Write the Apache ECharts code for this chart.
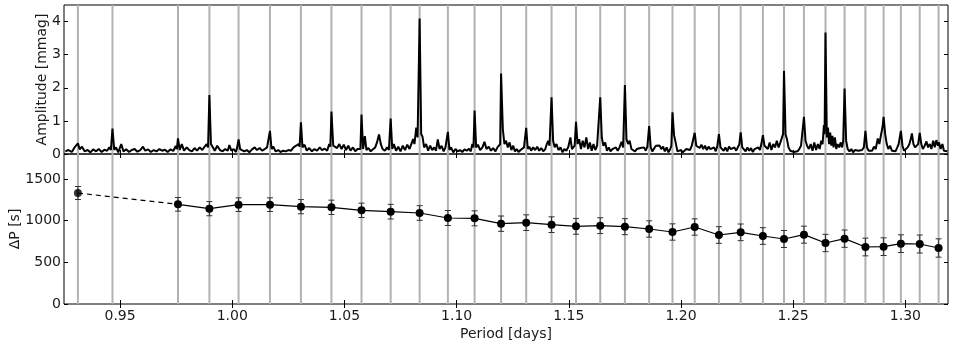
<!DOCTYPE html>
<html>
<head>
<meta charset="utf-8">
<script src="https://cdn.jsdelivr.net/npm/echarts@6/dist/echarts.min.js"></script>
<style>
  html, body { margin: 0; padding: 0; background: #fff; }
  #chart { width: 957px; height: 348px; }
</style>
</head>
<body>
<div id="chart"></div>
<script>
// periods of the identified peaks (grey vertical lines)
const peakPeriods = [0.9312, 0.9466, 0.9758, 0.9898, 1.0028, 1.0168, 1.0306, 1.0442, 1.0576, 1.0706,
  1.0835, 1.0961, 1.1080, 1.1198, 1.1310, 1.1423, 1.1532, 1.1640, 1.1750, 1.1858, 1.1962, 1.2061,
  1.2169, 1.2266, 1.2365, 1.2459, 1.2548, 1.2644, 1.2729, 1.2822, 1.2903, 1.2980, 1.3064, 1.3148]

// period spacing dP [s] per mode
const spacingPeriods = [0.9312, 0.9758, 0.9898, 1.0028, 1.0168, 1.0306, 1.0442, 1.0576, 1.0706,
  1.0835, 1.0961, 1.1080, 1.1198, 1.1310, 1.1423, 1.1532, 1.1640, 1.1750, 1.1858, 1.1962, 1.2061,
  1.2169, 1.2266, 1.2365, 1.2459, 1.2548, 1.2644, 1.2729, 1.2822, 1.2903, 1.2980, 1.3064, 1.3148]
const spacingValues = [1332, 1196, 1144, 1192, 1192, 1168, 1160, 1124, 1108, 1092, 1032, 1028, 964,
  976, 952, 932, 940, 928, 900, 864, 924, 828, 860, 816, 780, 832, 732, 784, 684, 688, 724, 720, 672]
const spacingErrors = [78, 82, 85, 82, 82, 85, 86, 86, 88, 88, 90, 90, 92, 94, 94, 95, 95, 96, 98, 98,
  98, 100, 100, 100, 102, 102, 104, 104, 106, 106, 106, 108, 110]

// amplitude spectrum [period, mmag]
const amplitude = [
  [0.9256,0.08],[0.9270,0.12],[0.9285,0.06],[0.9297,0.2],[0.9305,0.15],[0.9312,0.32],[0.9320,0.14],[0.9330,0.22],[0.9342,0.08],
  [0.9355,0.12],[0.9368,0.05],[0.9380,0.14],[0.9393,0.08],[0.9405,0.15],[0.9418,0.06],[0.9430,0.13],[0.9442,0.1],[0.9452,0.2],[0.9459,0.12],[0.9466,0.77],[0.9474,0.12],[0.9482,0.2],
  [0.9492,0.05],[0.9505,0.3],[0.9515,0.08],[0.9527,0.14],[0.9540,0.06],[0.9552,0.12],[0.9565,0.15],[0.9577,0.07],[0.9590,0.12],[0.9602,0.22],[0.9612,0.1],[0.9625,0.14],[0.9637,0.06],[0.9650,0.12],[0.9662,0.08],[0.9675,0.15],[0.9687,0.1],[0.9700,0.13],[0.9712,0.06],[0.9725,0.14],[0.9737,0.09],[0.9748,0.24],[0.9753,0.15],[0.9758,0.47],[0.9766,0.12],[0.9775,0.3],
  [0.9785,0.1],[0.9797,0.2],[0.9808,0.12],[0.9820,0.08],[0.9832,0.18],[0.9843,0.1],[0.9855,0.2],[0.9866,0.12],[0.9877,0.22],[0.9886,0.3],[0.9892,0.2],[0.9898,1.78],[0.9905,0.3],[0.9912,0.22],
  [0.9922,0.1],[0.9933,0.25],[0.9945,0.12],[0.9957,0.08],[0.9968,0.15],[0.9980,0.1],[0.9987,0.27],[0.9996,0.1],[1.0006,0.15],[1.0016,0.06],[1.0022,0.2],[1.0028,0.44],[1.0035,0.15],[1.0043,0.2],
  [1.0053,0.08],[1.0065,0.12],[1.0076,0.05],[1.0088,0.14],[1.0100,0.2],[1.0110,0.12],[1.0122,0.18],[1.0133,0.1],[1.0145,0.15],[1.0155,0.2],[1.0162,0.14],[1.0168,0.70],[1.0175,0.15],[1.0183,0.22],
  [1.0193,0.08],[1.0205,0.12],[1.0215,0.06],[1.0227,0.1],[1.0238,0.08],[1.0250,0.12],[1.0262,0.1],[1.0273,0.2],[1.0285,0.25],[1.0295,0.3],[1.0300,0.22],[1.0306,0.96],[1.0313,0.2],[1.0322,0.28],
  [1.0332,0.1],[1.0343,0.18],[1.0355,0.08],[1.0366,0.15],[1.0378,0.1],[1.0390,0.2],[1.0400,0.12],[1.0412,0.16],[1.0423,0.1],[1.0432,0.3],[1.0437,0.22],[1.0442,1.28],[1.0450,0.25],[1.0458,0.3],
  [1.0467,0.18],[1.0477,0.3],[1.0487,0.15],[1.0497,0.28],[1.0507,0.12],[1.0517,0.25],[1.0527,0.1],[1.0538,0.2],[1.0548,0.08],[1.0558,0.15],[1.0566,0.2],[1.0571,0.15],[1.0576,1.19],[1.0583,0.15],[1.0591,0.54],[1.0598,0.12],
  [1.0607,0.18],[1.0617,0.08],[1.0627,0.14],[1.0637,0.2],[1.0645,0.35],[1.0654,0.59],[1.0662,0.3],[1.0670,0.15],[1.0680,0.1],[1.0690,0.2],[1.0698,0.12],[1.0706,1.07],[1.0713,0.15],[1.0720,0.3],
  [1.0730,0.1],[1.0740,0.22],[1.0750,0.08],[1.0760,0.25],[1.0770,0.12],[1.0780,0.28],[1.0790,0.15],[1.0798,0.3],[1.0806,0.45],[1.0812,0.3],[1.0820,0.8],[1.0826,0.5],[1.0835,4.09],[1.0842,0.6],[1.0848,0.52],[1.0855,0.2],
  [1.0864,0.3],[1.0873,0.1],[1.0882,0.25],[1.0891,0.12],[1.0900,0.2],[1.0908,0.1],[1.0916,0.44],[1.0924,0.15],[1.0933,0.25],[1.0942,0.08],[1.0950,0.2],[1.0956,0.15],[1.0961,0.67],[1.0968,0.12],[1.0975,0.2],
  [1.0985,0.05],[1.0995,0.15],[1.1005,0.08],[1.1015,0.12],[1.1025,0.06],[1.1035,0.14],[1.1045,0.1],[1.1055,0.16],[1.1063,0.08],[1.1070,0.3],[1.1075,0.2],[1.1080,1.31],[1.1087,0.2],[1.1095,0.28],
  [1.1105,0.12],[1.1115,0.2],[1.1124,0.37],[1.1133,0.15],[1.1143,0.22],[1.1153,0.1],[1.1163,0.18],[1.1173,0.08],[1.1182,0.2],[1.1190,0.15],[1.1194,0.3],[1.1198,2.43],[1.1206,0.74],[1.1213,0.3],[1.1220,0.4],
  [1.1228,0.2],[1.1236,0.35],[1.1244,0.12],[1.1252,0.25],[1.1260,0.08],[1.1268,0.15],[1.1276,0.06],[1.1285,0.12],[1.1293,0.1],[1.1300,0.2],[1.1305,0.15],[1.1310,0.79],[1.1317,0.15],[1.1324,0.22],
  [1.1332,0.1],[1.1341,0.2],[1.1350,0.12],[1.1359,0.22],[1.1368,0.1],[1.1377,0.18],[1.1386,0.08],[1.1395,0.15],[1.1402,0.3],[1.1408,0.4],[1.1414,0.25],[1.1423,1.71],[1.1430,0.4],[1.1437,0.2],
  [1.1445,0.3],[1.1454,0.12],[1.1463,0.2],[1.1472,0.05],[1.1480,0.15],[1.1489,0.1],[1.1498,0.22],[1.1507,0.5],[1.1514,0.15],[1.1520,0.1],[1.1526,0.25],[1.1532,0.97],[1.1539,0.3],[1.1546,0.45],
  [1.1554,0.15],[1.1562,0.4],[1.1570,0.2],[1.1578,0.5],[1.1586,0.15],[1.1594,0.35],[1.1602,0.1],[1.1610,0.3],[1.1618,0.12],[1.1626,0.25],[1.1632,0.2],[1.1640,1.71],[1.1647,0.5],[1.1654,0.25],
  [1.1662,0.35],[1.1670,0.1],[1.1678,0.2],[1.1686,0.08],[1.1694,0.15],[1.1702,0.12],[1.1710,0.2],[1.1718,0.1],[1.1726,0.2],[1.1735,0.37],[1.1742,0.2],[1.1750,2.08],[1.1757,0.45],[1.1764,0.3],[1.1771,0.4],
  [1.1779,0.15],[1.1787,0.2],[1.1795,0.08],[1.1803,0.15],[1.1811,0.1],[1.1819,0.18],[1.1827,0.12],[1.1835,0.2],[1.1843,0.1],[1.1850,0.22],[1.1858,0.84],[1.1865,0.2],[1.1872,0.08],
  [1.1880,0.1],[1.1888,0.25],[1.1896,0.2],[1.1904,0.26],[1.1912,0.15],[1.1920,0.22],[1.1928,0.08],[1.1936,0.2],[1.1944,0.05],[1.1952,0.15],[1.1957,0.25],[1.1962,1.26],[1.1969,0.57],[1.1976,0.35],
  [1.1984,0.08],[1.1992,0.03],[1.2000,0.12],[1.2008,0.05],[1.2016,0.1],[1.2024,0.15],[1.2032,0.2],[1.2040,0.12],[1.2048,0.25],[1.2055,0.2],[1.2061,0.64],[1.2068,0.25],[1.2075,0.3],
  [1.2083,0.18],[1.2091,0.28],[1.2099,0.15],[1.2107,0.25],[1.2115,0.12],[1.2123,0.22],[1.2131,0.15],[1.2139,0.1],[1.2147,0.2],[1.2155,0.08],[1.2162,0.25],[1.2169,0.6],[1.2176,0.2],[1.2183,0.25],
  [1.2190,0.1],[1.2198,0.2],[1.2206,0.08],[1.2214,0.22],[1.2222,0.15],[1.2230,0.1],[1.2238,0.2],[1.2246,0.1],[1.2254,0.15],[1.2260,0.3],[1.2266,0.65],[1.2273,0.2],[1.2280,0.25],
  [1.2288,0.08],[1.2296,0.2],[1.2304,0.1],[1.2312,0.18],[1.2320,0.06],[1.2328,0.15],[1.2336,0.1],[1.2344,0.2],[1.2352,0.12],[1.2358,0.3],[1.2365,0.57],[1.2372,0.25],[1.2379,0.3],
  [1.2387,0.15],[1.2395,0.35],[1.2403,0.12],[1.2411,0.3],[1.2419,0.2],[1.2427,0.4],[1.2435,0.2],[1.2443,0.35],[1.2450,0.5],[1.2455,0.6],[1.2459,2.51],[1.2466,0.6],[1.2473,0.42],[1.2479,0.2],
  [1.2487,0.1],[1.2495,0.15],[1.2503,0.06],[1.2511,0.12],[1.2519,0.08],[1.2527,0.15],[1.2535,0.25],[1.2542,0.3],[1.2548,1.12],[1.2555,0.4],[1.2562,0.25],
  [1.2570,0.15],[1.2578,0.3],[1.2586,0.1],[1.2594,0.35],[1.2602,0.12],[1.2610,0.3],[1.2618,0.15],[1.2625,0.4],[1.2631,0.3],[1.2637,0.87],[1.2640,0.6],[1.2644,3.67],[1.2650,0.5],[1.2655,0.8],[1.2660,0.3],[1.2665,0.65],[1.2670,0.25],[1.2675,0.55],[1.2680,0.2],[1.2686,0.5],[1.2692,0.15],[1.2698,0.3],
  [1.2705,0.2],[1.2712,0.35],[1.2718,0.2],[1.2723,0.4],[1.2729,1.98],[1.2736,0.4],[1.2743,0.15],
  [1.2751,0.08],[1.2759,0.15],[1.2767,0.05],[1.2775,0.12],[1.2783,0.08],[1.2791,0.1],[1.2799,0.06],[1.2807,0.12],[1.2815,0.2],[1.2822,0.70],[1.2829,0.2],[1.2836,0.1],
  [1.2844,0.15],[1.2852,0.1],[1.2860,0.22],[1.2868,0.15],[1.2877,0.47],[1.2884,0.3],[1.2892,0.6],[1.2898,0.8],[1.2903,1.12],[1.2910,0.6],[1.2917,0.3],[1.2924,0.15],
  [1.2932,0.25],[1.2940,0.1],[1.2948,0.15],[1.2956,0.08],[1.2964,0.2],[1.2970,0.3],[1.2980,0.70],[1.2987,0.25],[1.2994,0.1],
  [1.3002,0.15],[1.3010,0.2],[1.3018,0.3],[1.3024,0.45],[1.3029,0.62],[1.3036,0.3],[1.3043,0.2],[1.3050,0.15],[1.3057,0.3],[1.3064,0.64],[1.3071,0.3],[1.3078,0.15],
  [1.3086,0.25],[1.3094,0.38],[1.3101,0.2],[1.3109,0.3],[1.3116,0.15],[1.3124,0.4],[1.3131,0.2],[1.3138,0.42],[1.3145,0.25],[1.3150,0.35],[1.3157,0.15],[1.3165,0.3],[1.3172,0.1],[1.3180,0.15],[1.3187,0.08]
]

const periodTicks = [0.95, 1.00, 1.05, 1.10, 1.15, 1.20, 1.25, 1.30]
const ampTicks = [0, 1, 2, 3, 4]
const spacingTicks = [0, 500, 1000, 1500]

const FONT = 'DejaVu Sans'
const INK = '#1a1a1a'
const xMin = 0.925, xMax = 1.319

function xAxisDef(grid, pos, withLabels) {
  return {
    type: 'value', gridIndex: grid, position: pos, min: xMin, max: xMax,
    axisLine: { show: false },
    splitLine: { show: false },
    axisTick: { show: true, inside: true, length: 4, customValues: periodTicks, lineStyle: { color: '#000' } },
    axisLabel: {
      show: withLabels, customValues: periodTicks, margin: 5,
      fontFamily: FONT, fontSize: 14, color: INK,
      formatter: v => v.toFixed(2)
    },
    name: withLabels ? 'Period [days]' : '',
    nameLocation: 'middle', nameGap: 23, nameMoveOverlap: false,
    nameTextStyle: { fontFamily: FONT, fontSize: 14, color: INK }
  }
}

function yAxisDef(grid, pos, max, ticks, name, gap) {
  const left = pos === 'left'
  return {
    type: 'value', gridIndex: grid, position: pos, min: 0, max: max,
    axisLine: { show: false },
    splitLine: { show: false },
    axisTick: { show: true, inside: true, length: 4, customValues: ticks, lineStyle: { color: '#000' } },
    axisLabel: {
      show: left, customValues: ticks, margin: 3, fontFamily: FONT, fontSize: 14, color: INK,
      formatter: v => String(v)
    },
    name: left ? name : '',
    nameLocation: 'middle', nameGap: gap, nameRotate: 90, nameMoveOverlap: false,
    nameTextStyle: { fontFamily: FONT, fontSize: 14, color: INK }
  }
}

// vertical grey lines at the peak periods, drawn through the x scale of each panel
function peakLines(xIdx, yIdx) {
  return {
    type: 'custom', xAxisIndex: xIdx, yAxisIndex: yIdx, z: 1, silent: true,
    data: peakPeriods.map(p => [p]),
    renderItem: function (params, api) {
      const cs = params.coordSys
      const x = api.coord([api.value(0), 0])[0]
      return {
        type: 'line',
        shape: { x1: x, y1: cs.y, x2: x, y2: cs.y + cs.height },
        style: { stroke: '#b2b2b2', lineWidth: 2 }
      }
    }
  }
}

const chart = echarts.init(document.getElementById('chart'), null, { renderer: 'canvas' })

chart.setOption({
  animation: false,
  grid: [
    { left: 64, right: 9, top: 5, height: 149, containLabel: false, outerBoundsMode: 'none',
      show: true, borderColor: '#000', borderWidth: 1, backgroundColor: 'transparent' },
    { left: 64, right: 9, top: 154, height: 150, containLabel: false, outerBoundsMode: 'none',
      show: true, borderColor: '#000', borderWidth: 1, backgroundColor: 'transparent' }
  ],
  xAxis: [
    xAxisDef(0, 'bottom', false),
    xAxisDef(0, 'top', false),
    xAxisDef(1, 'bottom', true),
    xAxisDef(1, 'top', false)
  ],
  yAxis: [
    yAxisDef(0, 'left', 4.5, ampTicks, 'Amplitude [mmag]', 15),
    yAxisDef(0, 'right', 4.5, ampTicks, '', 0),
    yAxisDef(1, 'left', 1800, spacingTicks, 'ΔP [s]', 42),
    yAxisDef(1, 'right', 1800, spacingTicks, '', 0)
  ],
  series: [
    peakLines(0, 0),
    peakLines(2, 2),
    {
      name: 'amplitude', type: 'line', xAxisIndex: 0, yAxisIndex: 0, z: 3,
      data: amplitude, showSymbol: false, silent: true,
      lineStyle: { color: '#000', width: 2 }
    },
    {
      name: 'first-gap', type: 'line', xAxisIndex: 2, yAxisIndex: 2, z: 3,
      data: [[spacingPeriods[0], spacingValues[0]], [spacingPeriods[1], spacingValues[1]]],
      showSymbol: false, silent: true,
      lineStyle: { color: '#000', width: 1.2, type: [5, 4] }
    },
    {
      name: 'errors', type: 'custom', xAxisIndex: 2, yAxisIndex: 2, z: 4, silent: true,
      data: spacingPeriods.map((p, i) => [p, spacingValues[i] - spacingErrors[i], spacingValues[i] + spacingErrors[i]]),
      renderItem: function (params, api) {
        const top = api.coord([api.value(0), api.value(2)])
        const bot = api.coord([api.value(0), api.value(1)])
        const cap = 3
        const st = { stroke: '#333', lineWidth: 1 }
        return {
          type: 'group',
          children: [
            { type: 'line', shape: { x1: top[0], y1: top[1], x2: bot[0], y2: bot[1] }, style: st },
            { type: 'line', shape: { x1: top[0] - cap, y1: top[1], x2: top[0] + cap, y2: top[1] }, style: st },
            { type: 'line', shape: { x1: bot[0] - cap, y1: bot[1], x2: bot[0] + cap, y2: bot[1] }, style: st }
          ]
        }
      }
    },
    {
      name: 'spacing', type: 'line', xAxisIndex: 2, yAxisIndex: 2, z: 5,
      data: spacingPeriods.slice(1).map((p, i) => [p, spacingValues[i + 1]]),
      symbol: 'circle', symbolSize: 8, showSymbol: true, silent: true,
      itemStyle: { color: '#000' },
      lineStyle: { color: '#000', width: 1.2 }
    },
    {
      name: 'spacing-first', type: 'scatter', xAxisIndex: 2, yAxisIndex: 2, z: 5,
      data: [[spacingPeriods[0], spacingValues[0]]],
      symbol: 'circle', symbolSize: 8, silent: true,
      itemStyle: { color: '#000' }
    }
  ]
})
</script>
</body>
</html>
